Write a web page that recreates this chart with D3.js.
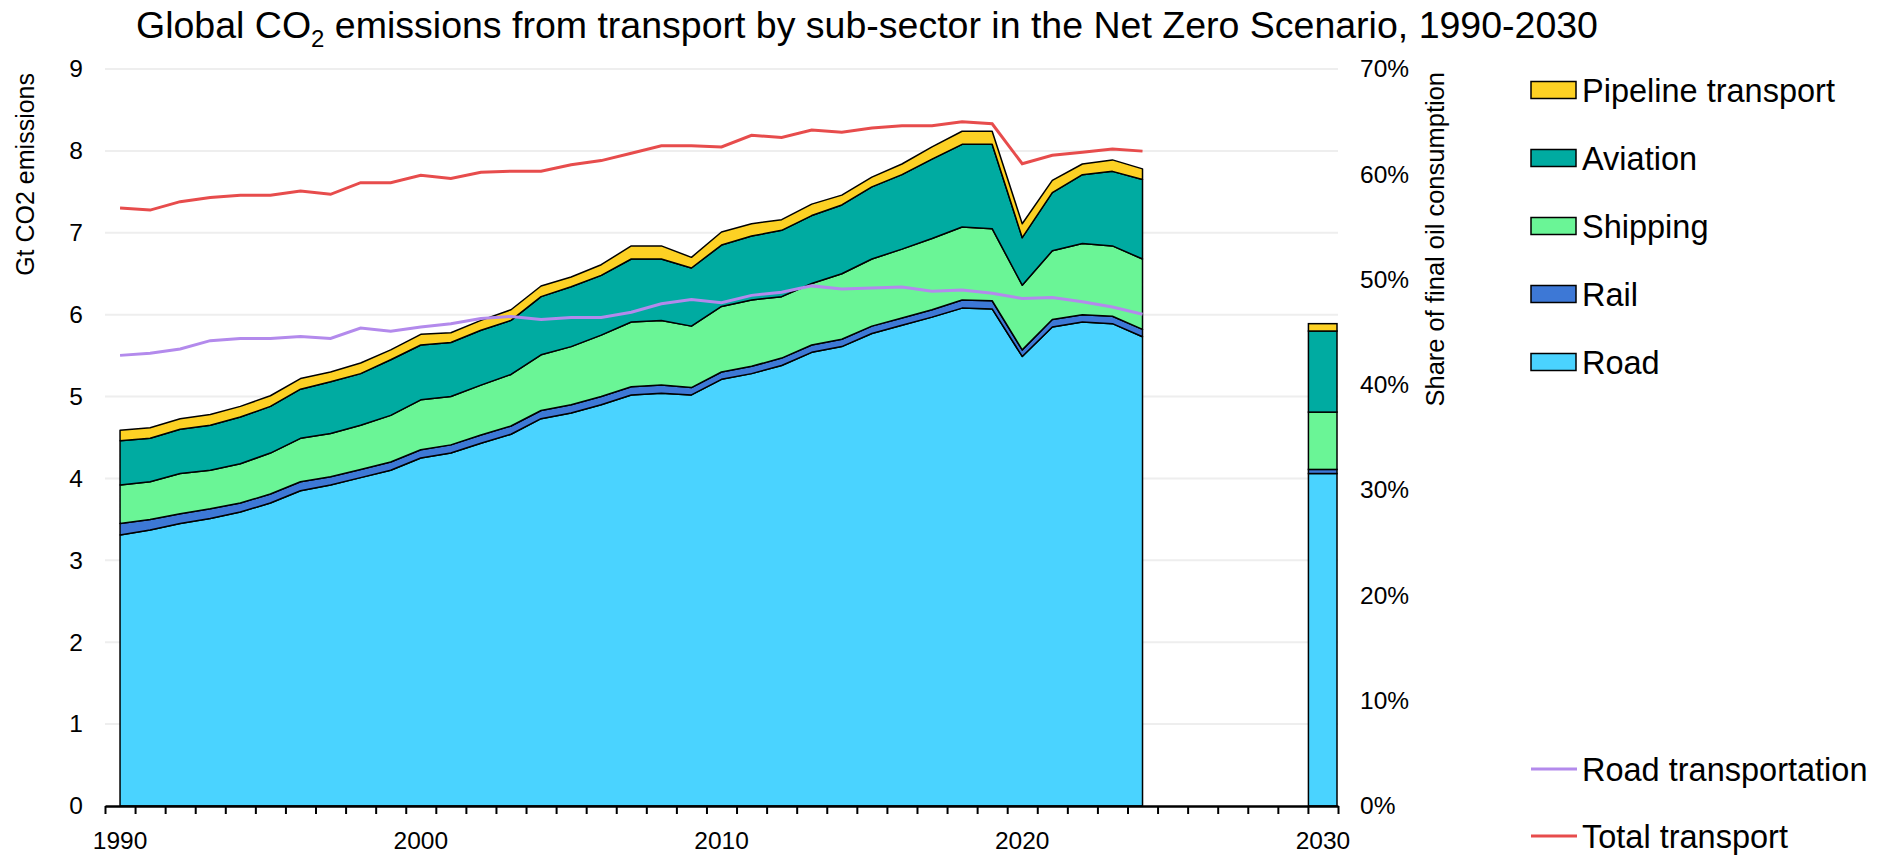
<!DOCTYPE html>
<html>
<head>
<meta charset="utf-8">
<script src="https://cdn.jsdelivr.net/npm/d3@7"></script>
<style>
    body { margin: 0; background: #fff; }
    svg text { font-family: "Liberation Sans", Arial, sans-serif; fill: #000; }
</style>
</head>
<body>
<svg id="chart" width="1892" height="856"></svg>
<script>
// categories
const years = [1990, 1991, 1992, 1993, 1994, 1995, 1996, 1997, 1998, 1999,
    2000, 2001, 2002, 2003, 2004, 2005, 2006, 2007, 2008, 2009,
    2010, 2011, 2012, 2013, 2014, 2015, 2016, 2017, 2018, 2019,
    2020, 2021, 2022, 2023, 2024];
const axisYears = [1990, 1991, 1992, 1993, 1994, 1995, 1996, 1997, 1998, 1999,
    2000, 2001, 2002, 2003, 2004, 2005, 2006, 2007, 2008, 2009,
    2010, 2011, 2012, 2013, 2014, 2015, 2016, 2017, 2018, 2019,
    2020, 2021, 2022, 2023, 2024, 2025, 2026, 2027, 2028, 2029, 2030];
const yearLabels = [1990, 2000, 2010, 2020, 2030];

// Gt CO2 by sub-sector
const road = [3.31, 3.37, 3.45, 3.51, 3.59, 3.70, 3.85, 3.92, 4.01, 4.10,
    4.25, 4.31, 4.43, 4.54, 4.73, 4.80, 4.90, 5.02, 5.04, 5.02,
    5.21, 5.28, 5.38, 5.54, 5.61, 5.77, 5.87, 5.97, 6.08, 6.07,
    5.49, 5.85, 5.91, 5.89, 5.73];
const rail = [0.14, 0.13, 0.12, 0.12, 0.11, 0.11, 0.11, 0.10, 0.10, 0.10,
    0.10, 0.10, 0.10, 0.10, 0.10, 0.10, 0.10, 0.10, 0.10, 0.09,
    0.09, 0.09, 0.09, 0.09, 0.09, 0.09, 0.09, 0.09, 0.10, 0.10,
    0.08, 0.09, 0.09, 0.09, 0.09];
const shipping = [0.47, 0.46, 0.49, 0.47, 0.48, 0.50, 0.53, 0.53, 0.54, 0.57,
    0.61, 0.59, 0.61, 0.63, 0.68, 0.71, 0.75, 0.79, 0.79, 0.75,
    0.80, 0.81, 0.75, 0.75, 0.80, 0.82, 0.84, 0.87, 0.89, 0.88,
    0.79, 0.84, 0.87, 0.86, 0.86];
const aviation = [0.54, 0.53, 0.54, 0.55, 0.57, 0.57, 0.60, 0.63, 0.63, 0.68,
    0.67, 0.66, 0.67, 0.66, 0.71, 0.73, 0.73, 0.77, 0.75, 0.71,
    0.75, 0.78, 0.81, 0.83, 0.84, 0.88, 0.91, 0.97, 1.01, 1.03,
    0.58, 0.71, 0.84, 0.91, 0.97];
const pipeline = [0.13, 0.13, 0.13, 0.13, 0.13, 0.13, 0.13, 0.12, 0.13, 0.12,
    0.13, 0.12, 0.12, 0.13, 0.13, 0.12, 0.13, 0.16, 0.16, 0.13,
    0.16, 0.15, 0.13, 0.14, 0.12, 0.12, 0.13, 0.15, 0.16, 0.16,
    0.17, 0.15, 0.13, 0.14, 0.13];

// Net Zero 2030 bar
const nze2030 = {year: 2030, road: 4.06, rail: 0.05, shipping: 0.70, aviation: 0.99, pipeline: 0.09};

// share of final oil consumption, %
const roadShare = [42.8, 43.0, 43.4, 44.2, 44.4, 44.4, 44.6, 44.4, 45.4, 45.1,
    45.5, 45.8, 46.3, 46.5, 46.2, 46.4, 46.4, 46.9, 47.7, 48.1,
    47.8, 48.5, 48.8, 49.4, 49.1, 49.2, 49.3, 48.9, 49.0, 48.7,
    48.2, 48.3, 47.9, 47.4, 46.7];
const totalShare = [56.8, 56.6, 57.4, 57.8, 58.0, 58.0, 58.4, 58.1, 59.2, 59.2,
    59.9, 59.6, 60.2, 60.3, 60.3, 60.9, 61.3, 62.0, 62.7, 62.7,
    62.6, 63.7, 63.5, 64.2, 64.0, 64.4, 64.6, 64.6, 65.0, 64.8,
    61.0, 61.8, 62.1, 62.4, 62.2];

const keys = ["road", "rail", "shipping", "aviation", "pipeline"];
const names = {road: "Road", rail: "Rail", shipping: "Shipping", aviation: "Aviation", pipeline: "Pipeline transport"};
const colors = {road: "#4AD3FF", rail: "#3D78D6", shipping: "#6AF596", aviation: "#00ABA1", pipeline: "#FDD124"};
const colorRoadLine = "#B38AEC";
const colorTotalLine = "#E74C4C";
const gridTicks = [0, 1, 2, 3, 4, 5, 6, 7, 8, 9];
const shareTicks = [0, 10, 20, 30, 40, 50, 60, 70];

const plotLeft = 105, plotRight = 1338, plotTop = 69, plotBottom = 806;
const tickFont = "24.5px";
const legendFont = "32.5px";

const rows = years.map((yr, i) => ({
    year: yr, road: road[i], rail: rail[i], shipping: shipping[i], aviation: aviation[i], pipeline: pipeline[i]
}));

const x = d3.scaleBand().domain(axisYears).range([plotLeft, plotRight]).padding(0);
const xEdge = d3.scaleLinear().domain([1989.5, 2030.5]).range([plotLeft, plotRight]);
const y = d3.scaleLinear().domain([0, 9]).range([plotBottom, plotTop]);
const y2 = d3.scaleLinear().domain([0, 70]).range([plotBottom, plotTop]);
const cx = yr => x(yr) + x.bandwidth() / 2;

const svg = d3.select("#chart");

// title
const title = svg.append("text")
    .attr("x", 867)
    .attr("y", 38)
    .attr("text-anchor", "middle")
    .style("font-size", "37.5px");
title.append("tspan").text("Global CO");
title.append("tspan").attr("dy", 9).style("font-size", "24px").text("2");
title.append("tspan").attr("dy", -9).text(" emissions from transport by sub-sector in the Net Zero Scenario, 1990-2030");

// gridlines
svg.append("g")
    .selectAll("line")
    .data(gridTicks.filter(d => d > 0))
    .join("line")
    .attr("x1", plotLeft)
    .attr("x2", plotRight)
    .attr("y1", d => y(d))
    .attr("y2", d => y(d))
    .style("stroke", "#eeeeee")
    .style("stroke-width", 2);

// stacked areas
const stack = d3.stack().keys(keys);
const series = stack(rows);
const area = d3.area()
    .x(d => cx(d.data.year))
    .y0(d => y(d[0]))
    .y1(d => y(d[1]));

svg.append("g")
    .selectAll("path")
    .data(series)
    .join("path")
    .attr("d", area)
    .style("fill", d => colors[d.key])
    .style("stroke", "#000")
    .style("stroke-width", 1.5)
    .style("stroke-linejoin", "round");

// 2030 bar
const barSeries = stack([nze2030]);
svg.append("g")
    .selectAll("rect")
    .data(barSeries)
    .join("rect")
    .attr("x", x(2030) + 0.5)
    .attr("width", x.bandwidth() - 1.5)
    .attr("y", d => y(d[0][1]))
    .attr("height", d => y(d[0][0]) - y(d[0][1]))
    .style("fill", d => colors[d.key])
    .style("stroke", "#000")
    .style("stroke-width", 1.5);

// share lines
const line = d3.line()
    .x((d, i) => cx(years[i]))
    .y(d => y2(d));

svg.append("path")
    .datum(roadShare)
    .attr("d", line)
    .style("fill", "none")
    .style("stroke", colorRoadLine)
    .style("stroke-width", 3);

svg.append("path")
    .datum(totalShare)
    .attr("d", line)
    .style("fill", "none")
    .style("stroke", colorTotalLine)
    .style("stroke-width", 3);

// x axis: ticks on band edges
const xTicks = svg.append("g")
    .attr("transform", `translate(0,${plotBottom})`)
    .call(d3.axisBottom(xEdge)
        .tickValues(axisYears.map(d => d - 0.5).concat([2030.5]))
        .tickFormat("")
        .tickSize(8)
        .tickSizeOuter(0));
xTicks.select(".domain").style("stroke-width", 2.5);
xTicks.selectAll(".tick line").style("stroke-width", 2);

const xLabels = svg.append("g")
    .attr("transform", `translate(0,${plotBottom})`)
    .call(d3.axisBottom(x).tickValues(yearLabels).tickSize(0).tickPadding(26));
xLabels.select(".domain").remove();
xLabels.selectAll("text").style("font-size", tickFont).style("font-family", "'Liberation Sans', Arial, sans-serif");

// left axis labels
const yLeft = svg.append("g")
    .attr("transform", `translate(${plotLeft},0)`)
    .call(d3.axisLeft(y).tickValues(gridTicks).tickSize(0).tickPadding(22));
yLeft.select(".domain").remove();
yLeft.selectAll("text").style("font-size", tickFont).style("font-family", "'Liberation Sans', Arial, sans-serif");

// right axis labels
const yRight = svg.append("g")
    .attr("transform", `translate(${plotRight},0)`)
    .call(d3.axisRight(y2).tickValues(shareTicks).tickFormat(d => d + "%").tickSize(0).tickPadding(22));
yRight.select(".domain").remove();
yRight.selectAll("text").style("font-size", tickFont).style("font-family", "'Liberation Sans', Arial, sans-serif");

// axis titles
svg.append("text")
    .attr("transform", "translate(34,73) rotate(-90)")
    .attr("text-anchor", "end")
    .style("font-size", "25px")
    .text("Gt CO2 emissions");

svg.append("text")
    .attr("transform", "translate(1444,72) rotate(-90)")
    .attr("text-anchor", "end")
    .style("font-size", "25.5px")
    .text("Share of final oil consumption");

// legend
const legendKeys = ["pipeline", "aviation", "shipping", "rail", "road"];
const legend = svg.append("g").attr("transform", "translate(1531,0)");
const item = legend.selectAll("g.item")
    .data(legendKeys)
    .join("g")
    .attr("class", "item")
    .attr("transform", (d, i) => `translate(0,${90 + i * 68})`);
item.append("rect")
    .attr("x", 0)
    .attr("y", -8.5)
    .attr("width", 45)
    .attr("height", 17)
    .style("fill", d => colors[d])
    .style("stroke", "#000")
    .style("stroke-width", 1.5);
item.append("text")
    .attr("x", 51)
    .attr("dy", "0.36em")
    .style("font-size", legendFont)
    .text(d => names[d]);

const lineItems = [
    {name: "Road transportation", color: colorRoadLine, yPos: 769},
    {name: "Total transport", color: colorTotalLine, yPos: 836}
];
const lItem = legend.selectAll("g.litem")
    .data(lineItems)
    .join("g")
    .attr("class", "litem")
    .attr("transform", d => `translate(0,${d.yPos})`);
lItem.append("line")
    .attr("x1", 0)
    .attr("x2", 46)
    .style("stroke", d => d.color)
    .style("stroke-width", 3);
lItem.append("text")
    .attr("x", 51)
    .attr("dy", "0.36em")
    .style("font-size", legendFont)
    .text(d => d.name);
</script>
</body>
</html>
